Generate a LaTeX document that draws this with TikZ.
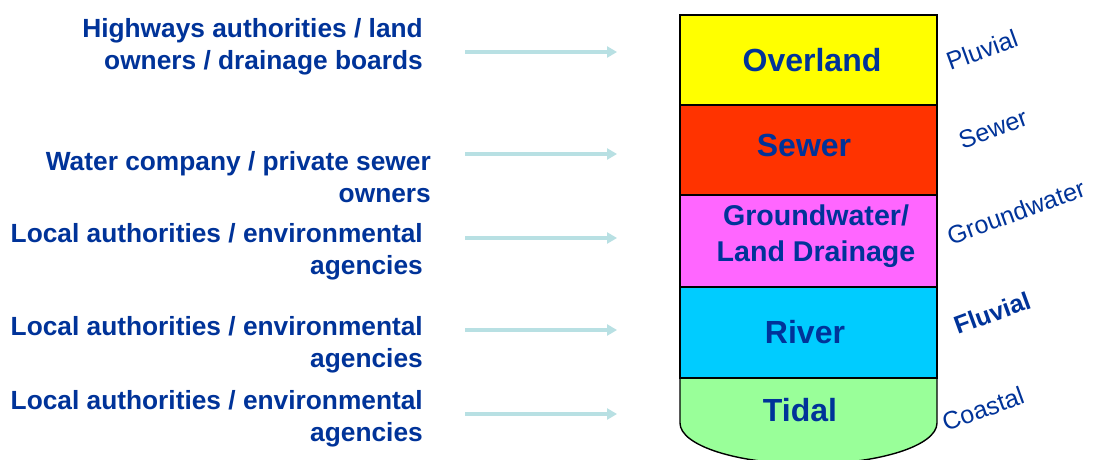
\documentclass[tikz,border=0pt]{standalone}
\usepackage{fontspec}
\setmainfont{Liberation Sans}
\usetikzlibrary{arrows.meta}
\definecolor{ink}{RGB}{0,51,153}
\definecolor{flowarrow}{RGB}{184,224,227}
\definecolor{overlandfill}{RGB}{255,255,0}
\definecolor{sewerfill}{RGB}{255,51,0}
\definecolor{groundfill}{RGB}{255,102,255}
\definecolor{riverfill}{RGB}{0,204,255}
\definecolor{tidalfill}{RGB}{153,255,153}
\begin{document}
\begin{tikzpicture}[x=1pt,y=-1pt,
  owner/.style={text=ink, font=\bfseries\fontsize{26.3}{32}\selectfont, align=right, anchor=east, inner sep=0pt},
  band/.style={draw=black, line width=1.4pt, minimum width=257pt, inner sep=0pt},
  bandlabel/.style={text=ink, font=\bfseries\fontsize{32}{36}\selectfont, align=center, inner sep=0pt},
  source/.style={text=ink, font=\fontsize{25}{28}\selectfont, rotate=20, inner sep=0pt},
  feed/.style={draw=flowarrow, line width=3.5pt, -{Triangle[length=10pt,width=11pt]}}]
\useasboundingbox (0,0) rectangle (1095,460);
\clip (0,0) rectangle (1095,460);
\fill[white] (0,0) rectangle (1095,460);

% responsible bodies
\node[owner] (o1) at (423,47) {Highways authorities / land\\owners / drainage boards};
\node[owner] (o2) at (431,177) {Water company / private sewer\\owners};
\node[owner] (o3) at (423,252) {Local authorities / environmental\\agencies};
\node[owner] (o4) at (423,345) {Local authorities / environmental\\agencies};
\node[owner] (o5) at (423,419) {Local authorities / environmental\\agencies};

% tidal band with rounded base
\filldraw[fill=tidalfill, draw=black, line width=1.4pt]
  (680,378) -- (680,423) arc[start angle=180, end angle=0, x radius=128.5, y radius=41]
  -- (937,378) -- cycle;

% stacked flood-source bands
\node[band, fill=overlandfill, minimum height=90pt] (overland) at (808.5,60) {};
\node[band, fill=sewerfill, minimum height=90pt] (sewer) at (808.5,150) {};
\node[band, fill=groundfill, minimum height=92pt] (ground) at (808.5,241) {};
\node[band, fill=riverfill, minimum height=91pt] (river) at (808.5,332.5) {};

% band captions
\node[bandlabel] (overlandlab) at (812,60) {Overland};
\node[bandlabel] (sewerlab) at (804,145) {Sewer};
\node[bandlabel, font=\bfseries\fontsize{28.6}{36}\selectfont] (groundlab) at (816,236) {Groundwater/\\Land Drainage};
\node[bandlabel] (riverlab) at (805,332) {River};
\node[bandlabel] (tidallab) at (800,410) {Tidal};

% source labels
\node[source] (s1) at (982,50) {Pluvial};
\node[source] (s2) at (993,129) {Sewer};
\node[source] (s3) at (1016,212) {Groundwater};
\node[source, font=\bfseries\fontsize{25}{28}\selectfont] (s4) at (992,313) {Fluvial};
\node[source] (s5) at (983,409) {Coastal};

% arrows from bodies to the stack
\foreach \i/\y in {1/52, 2/154, 3/238, 4/330, 5/414} {
  \coordinate (f\i) at (465,\y);
  \coordinate (t\i) at (617,\y);
  \draw[feed] (f\i) -- (t\i);
}
\end{tikzpicture}
\end{document}
